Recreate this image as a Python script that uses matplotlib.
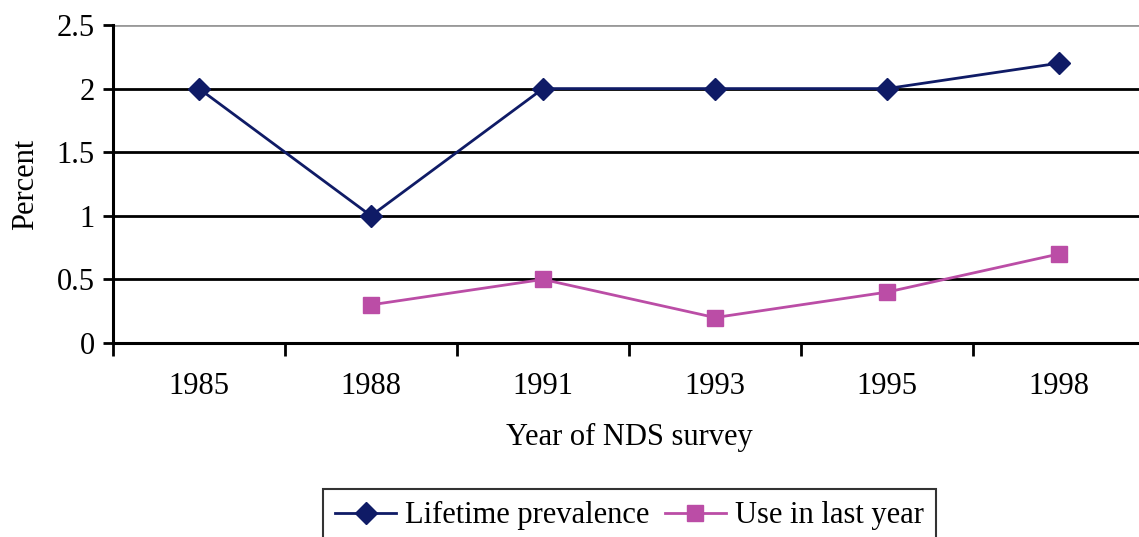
import matplotlib
matplotlib.use("Agg")
import matplotlib.pyplot as plt
import numpy as np

years = ["1985", "1988", "1991", "1993", "1995", "1998"]
lifetime = [2.0, 1.0, 2.0, 2.0, 2.0, 2.2]
last_year = [np.nan, 0.3, 0.5, 0.2, 0.4, 0.7]
yticks = [0, 0.5, 1, 1.5, 2, 2.5]
ytick_labels = ["0", "0.5", "1", "1.5", "2", "2.5"]

plt.rcParams['font.family'] = ['Liberation Serif', 'DejaVu Serif']
FS = 22

fig = plt.figure(figsize=(11.39, 5.37), dpi=100)
ax = fig.add_axes([113/1139, 1-343/537, 1032/1139, 318/537])

x = np.arange(len(years))
for yv in yticks[1:]:
    ax.axhline(yv, color='#999999' if yv == 2.5 else 'black', lw=2, zorder=1)

ax.plot(x, lifetime, color='#0F1B66', lw=2, marker='D', markersize=11,
        label='Lifetime prevalence', zorder=3)
ax.plot(x, last_year, color='#BB4DA6', lw=2, marker='s', markersize=11,
        label='Use in last year', zorder=3)

ax.set_xlim(-0.5, len(years) - 0.5)
ax.set_ylim(0, 2.5)
ax.set_yticks(yticks)
ax.set_yticklabels(ytick_labels, fontsize=FS)
ax.set_xticks(x)
ax.set_xticklabels(years, fontsize=FS)
ax.tick_params(axis='x', length=0, pad=21)
ax.set_xticks(np.arange(-0.5, len(years)), minor=True)
ax.tick_params(axis='x', which='minor', length=9, width=2, direction='out')
ax.tick_params(axis='y', length=7, width=2, direction='out', pad=6)

for s in ['top', 'right']:
    ax.spines[s].set_visible(False)
ax.spines['left'].set_linewidth(2.2)
ax.spines['bottom'].set_linewidth(2.2)

ax.set_ylabel('Percent', fontsize=FS, labelpad=12)
ax.set_xlabel('Year of NDS survey', fontsize=FS, labelpad=16)

leg = fig.legend(loc='upper center', bbox_to_anchor=(629.5/1139, 1-489/537),
                 ncol=2, fontsize=FS, frameon=True, fancybox=False,
                 handlelength=2.0, handletextpad=0.3, columnspacing=0.5,
                 borderpad=0.4, borderaxespad=0)
leg.get_frame().set_edgecolor('black')
leg.get_frame().set_linewidth(1.5)

fig.savefig('out.png', dpi=100)
